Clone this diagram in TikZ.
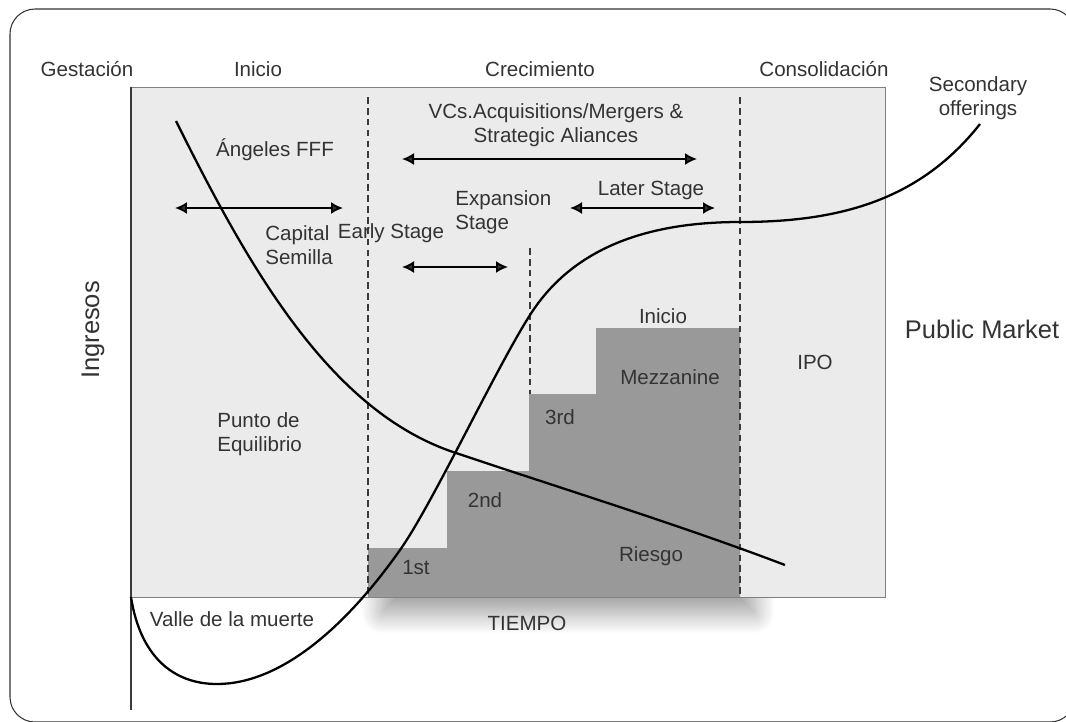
\documentclass[tikz,border=0pt]{standalone}
\usepackage{fontspec}
\setmainfont{Liberation Sans}
\usetikzlibrary{arrows.meta, shadows.blur}

\definecolor{panel}{HTML}{EBEBEB}
\definecolor{bloque}{HTML}{999999}
\definecolor{texto}{HTML}{333333}
\definecolor{borde}{HTML}{3A3A3A}

\tikzset{
  lbl/.style={text=texto, font=\fontsize{11.7}{14}\selectfont, inner sep=0pt},
  big/.style={lbl, font=\fontsize{14.5}{17}\selectfont},
  twoway/.style={{Latex[length=2.4mm,width=2.4mm]}-{Latex[length=2.4mm,width=2.4mm]}, line width=1.1pt},
  stage/.style={borde, line width=1.3pt, dash pattern=on 3.8pt off 2.4pt},
  curva/.style={line width=1.3pt},
}

\begin{document}
\begin{tikzpicture}[x=0.02cm, y=-0.02cm]
  % marco
  \useasboundingbox (0,0) rectangle (1066,721);
  \clip (0,0) rectangle (1066,721);
  \draw[texto, line width=0.6pt, rounded corners=0.5cm] (10,9) rectangle (1075,722);

  % sombra de los escalones
  \path[blur shadow={shadow xshift=8pt, shadow yshift=-9pt, shadow blur radius=12pt,
      shadow blur steps=24, shadow opacity=40}]
    (368,597) -- (368,548) -- (447,548) -- (447,471) -- (529,471) -- (529,394)
    -- (596,394) -- (596,328) -- (740,328) -- (740,597) -- cycle;

  % zona gris
  \fill[panel] (131,87) rectangle (885,597);
  \draw[gray, line width=0.5pt] (131,87) rectangle (885,597);

  % escalones de financiacion
  \fill[bloque] (368,597) -- (368,548) -- (447,548) -- (447,471) -- (529,471) -- (529,394)
    -- (596,394) -- (596,328) -- (740,328) -- (740,597) -- cycle;

  % eje de ingresos
  \coordinate (ejeA) at (131,87);
  \coordinate (ejeB) at (131,710);
  \draw[borde, line width=1.5pt] (ejeA) -- (ejeB);

  % separadores de etapas
  \coordinate (s1a) at (368,97);  \coordinate (s1b) at (368,597);
  \coordinate (s2a) at (740,97);  \coordinate (s2b) at (740,597);
  \coordinate (s3a) at (530,248); \coordinate (s3b) at (530,394);
  \draw[stage] (s1a) -- (s1b);
  \draw[stage] (s2a) -- (s2b);
  \draw[stage] (s3a) -- (s3b);

  % textos
  \node[lbl] (gest) at (87,69) {Gestación};
  \node[lbl] (ini) at (258,69) {Inicio};
  \node[lbl] (crec) at (540,69) {Crecimiento};
  \node[lbl] (cons) at (824,69) {Consolidación};
  \node[lbl, align=center] (sec) at (978,98) {Secondary\\offerings};
  \node[lbl] (ang) at (275,150) {Ángeles FFF};
  \node[lbl, align=center] (vcs) at (556,125) {VCs.Acquisitions/Mergers \&\\Strategic Aliances};
  \node[lbl, align=left, anchor=west] (cap) at (265,245) {Capital\\Semilla};
  \node[lbl] (early) at (391,233) {Early Stage};
  \node[lbl, align=left, anchor=west] (exp) at (455,212) {Expansion\\Stage};
  \node[lbl] (later) at (651,190) {Later Stage};
  \node[lbl] (ini2) at (663,316) {Inicio};
  \node[big] (pub) at (982,329) {Public Market};
  \node[lbl] (ipo) at (815,362) {IPO};
  \node[lbl] (mezz) at (670,377) {Mezzanine};
  \node[lbl] (tercero) at (560,417) {3rd};
  \node[lbl, align=left, anchor=west] (punto) at (217,434) {Punto de\\Equilibrio};
  \node[lbl] (segundo) at (485,500) {2nd};
  \node[lbl] (primero) at (416,568) {1st};
  \node[lbl] (riesgo) at (651,556) {Riesgo};
  \node[lbl] (tiempo) at (527,623) {TIEMPO};
  \node[lbl] (valle) at (232,619) {Valle de la muerte};
  \node[big, rotate=90] (ing) at (93,330) {Ingresos};

  % flechas de rango
  \coordinate (capL) at (175,208); \coordinate (capR) at (343,208);
  \coordinate (vcL) at (402,159);  \coordinate (vcR) at (697,159);
  \coordinate (earL) at (402,267); \coordinate (earR) at (508,267);
  \coordinate (latL) at (570,208); \coordinate (latR) at (715,208);
  \draw[twoway] (capL) -- (capR);
  \draw[twoway] (vcL) -- (vcR);
  \draw[twoway] (earL) -- (earR);
  \draw[twoway] (latL) -- (latR);

  % curva de riesgo
  \coordinate (r0) at (176,121);
  \coordinate (r1) at (453,452); % cruce con la curva S
  \coordinate (r2) at (785,565);
  \draw[curva] (r0) .. controls (250,270) and (330,410) .. (r1)
    .. controls (560,488) and (680,525) .. (r2);

  % curva de ingresos (S)
  \coordinate (c0) at (131,597);
  \coordinate (c1) at (217,684); % valle de la muerte
  \coordinate (c2) at (400,550);
  \coordinate (c3) at (530,315);
  \coordinate (c4) at (740,222);
  \coordinate (c5) at (980,124); % secondary offerings
  \draw[curva] (c0) .. controls (140,655) and (172,684) .. (c1)
    .. controls (280,684) and (345,628) .. (c2)
    .. controls (432,505) and (495,370) .. (c3)
    .. controls (570,252) and (640,222) .. (c4)
    .. controls (840,222) and (920,200) .. (c5);
\end{tikzpicture}
\end{document}
